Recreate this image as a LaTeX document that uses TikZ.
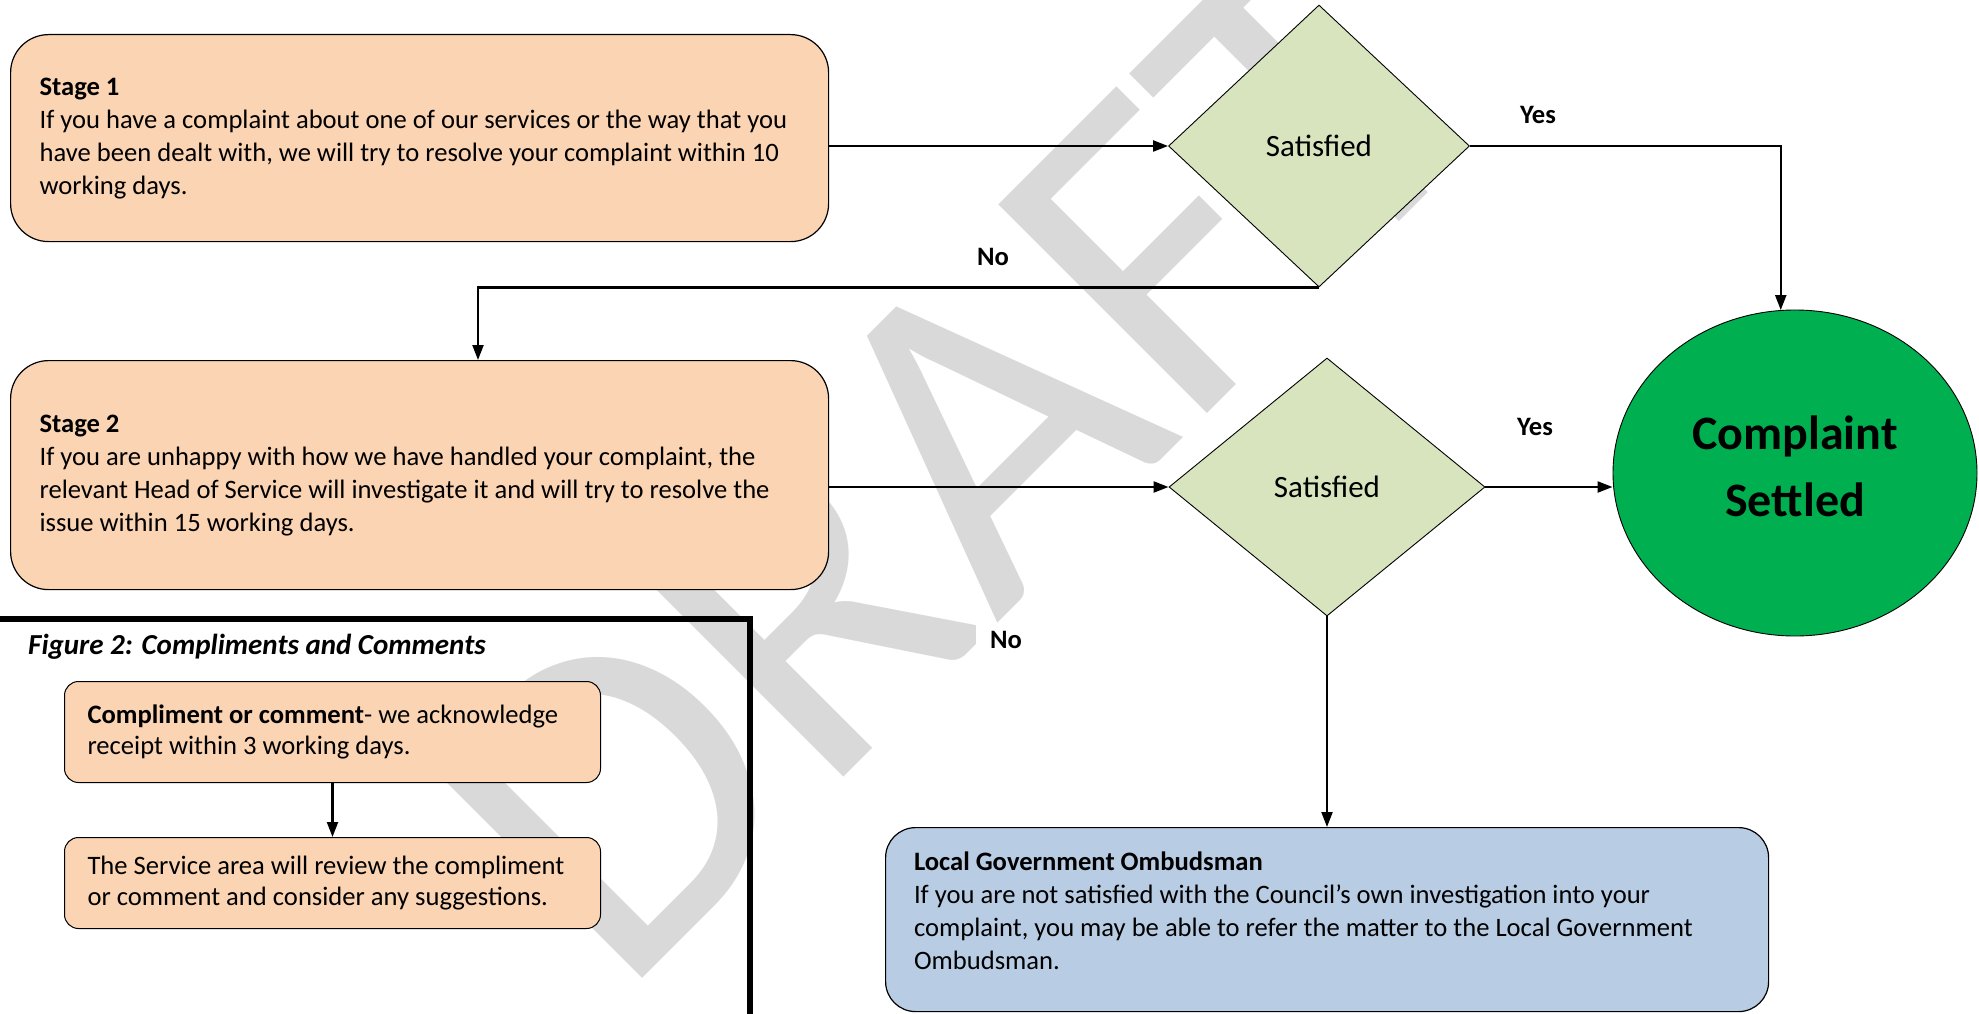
\documentclass[tikz,border=0pt]{standalone}
\usepackage{fontspec}
\setmainfont{Carlito}
\usetikzlibrary{arrows.meta,shapes.geometric}
\definecolor{orng}{HTML}{FBD4B4}
\definecolor{dgreen}{HTML}{D7E4BD}
\definecolor{bgreen}{HTML}{00B050}
\definecolor{lblue}{HTML}{B8CCE4}
\definecolor{wmark}{HTML}{D9D9D9}
\begin{document}
\begin{tikzpicture}[x=1pt,y=-1pt,
  plaintext/.style={execute at begin node={\spaceskip=0pt\relax\hyphenpenalty=10000\relax}},
  bigbox/.style={plaintext, draw=black, line width=1.2pt, rounded corners=38pt, anchor=north west, align=flush left,
    inner xsep=29pt, inner ysep=0pt, font=\fontsize{26.6}{33}\selectfont},
  smallbox/.style={plaintext, draw=black, line width=1pt, fill=orng, rounded corners=14pt, anchor=north west,
    align=flush left, inner xsep=23pt, inner ysep=0pt, text width=490pt, minimum width=536pt,
    font=\fontsize{26.6}{31}\selectfont},
  decision/.style={diamond, draw=black, line width=0.9pt, fill=dgreen, inner sep=0pt,
    font=\fontsize{31}{36}\selectfont},
  lbl/.style={font=\bfseries\fontsize{26.6}{32}\selectfont, inner sep=0pt},
  conn/.style={line width=2.2pt, -{Triangle[length=15pt,width=11pt]}},
  frameline/.style={line width=6pt}
]
\useasboundingbox (0,0) rectangle (1979,1014);

% watermark
\node[rotate=45, anchor=base west, text=wmark, inner sep=0pt,
  font=\fontsize{460}{460}\selectfont] (wm) at (620,1001) {DRAFT};

% main boxes
\node[bigbox, fill=orng, text width=760pt, minimum width=818pt, minimum height=207pt] (s1) at (10,34)
 {\textbf{Stage 1}\\If you have a complaint about one of our services or the way that you\\have been dealt with, we will try to resolve your complaint within 10\\working days.};
\node[bigbox, fill=orng, text width=760pt, minimum width=818pt, minimum height=229pt] (s2) at (10,360)
 {\textbf{Stage 2}\\If you are unhappy with how we have handled your complaint, the\\relevant Head of Service will investigate it and will try to resolve the\\issue within 15 working days.};
\node[bigbox, fill=lblue, rounded corners=30pt, minimum width=883pt, minimum height=184pt] (lgo) at (885,827) {};
\node[plaintext, align=flush left, text width=825pt, inner sep=0pt, font=\fontsize{26.6}{33}\selectfont] (lgot) at (1326.5,911)
 {\textbf{Local Government Ombudsman}\\If you are not satisfied with the Council’s own investigation into your\\complaint, you may be able to refer the matter to the Local Government\\Ombudsman.};

\node[decision, minimum width=301pt, minimum height=282pt] (d1) at (1319,146) {Satisfied};
\node[decision, minimum width=316pt, minimum height=258pt] (d2) at (1327,487) {Satisfied};

\node[ellipse, draw=black, line width=0.9pt, fill=bgreen, minimum width=364pt, minimum height=326pt,
  inner sep=0pt] (st) at (1795,473) {};
\node[align=center, inner sep=0pt, font=\bfseries\fontsize{48}{67}\selectfont] (stt) at (1795,466) {Complaint\\Settled};

\node[lbl] (yes1) at (1538,115) {Yes};
\node[lbl] (yes2) at (1535,427) {Yes};
\node[lbl, fill=white, inner xsep=14pt, inner ysep=6pt] (no1) at (993,257) {No};
\node[lbl, fill=white, inner xsep=14pt, inner ysep=6pt] (no2) at (1006,640) {No};

% figure 2 panel
\draw[frameline] (-10,619) -- (750,619) -- (750,1030);
\node[font=\bfseries\itshape\fontsize{29}{35}\selectfont, anchor=west, inner sep=0pt] (cap) at (28,647)
 {Figure 2: Compliments and Comments};
\node[smallbox, minimum height=101pt] (c1) at (64,681)
 {\textbf{Compliment or comment}- we acknowledge\\receipt within 3 working days.};
\node[smallbox, minimum height=91pt] (c2) at (64,837)
 {The Service area will review the compliment\\or comment and consider any suggestions.};

% connectors
\coordinate (nx) at (478,300);
\draw[conn] (s1.east |- d1.west) -- (d1.west);
\draw[conn] (d1.east) -| (st.95);
\draw[conn] (d1.south) -| (nx |- s2.north);
\draw[conn] (s2.east |- d2.west) -- (d2.west);
\draw[conn] (d2.east) -- (st.west |- d2.east);
\draw[conn] (d2.south) -- (d2.south |- lgo.north);
\draw[conn] (c1.south) -- (c2.north);
\end{tikzpicture}
\end{document}
